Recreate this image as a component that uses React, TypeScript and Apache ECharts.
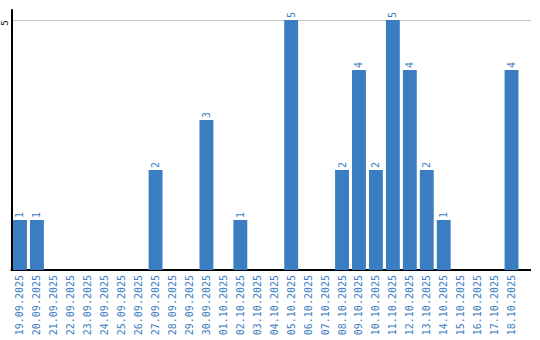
import React, { useEffect, useRef } from "react";
import * as echarts from "echarts";

const categories = [
  "19.09.2025", "20.09.2025", "21.09.2025", "22.09.2025", "23.09.2025",
  "24.09.2025", "25.09.2025", "26.09.2025", "27.09.2025", "28.09.2025",
  "29.09.2025", "30.09.2025", "01.10.2025", "02.10.2025", "03.10.2025",
  "04.10.2025", "05.10.2025", "06.10.2025", "07.10.2025", "08.10.2025",
  "09.10.2025", "10.10.2025", "11.10.2025", "12.10.2025", "13.10.2025",
  "14.10.2025", "15.10.2025", "16.10.2025", "17.10.2025", "18.10.2025",
];
const values = [
  1, 1, 0, 0, 0,
  0, 0, 0, 2, 0,
  0, 3, 0, 1, 0,
  0, 5, 0, 0, 2,
  4, 2, 5, 4, 2,
  1, 0, 0, 0, 4,
];
const yMax = 5.2;
const yTick = 5;

const BLUE = "#3b7dc2";
const FONT = "DejaVu Sans Mono";

export default function App() {
  const ref = useRef<HTMLDivElement>(null);
  useEffect(() => {
    if (!ref.current) return;
    const chart = echarts.init(ref.current, null, { renderer: "svg" });
    chart.setOption({
      animation: false,
      grid: { left: 10, right: 20, top: 10, bottom: 70, containLabel: false },
      xAxis: {
        type: "category",
        data: categories,
        axisLine: { lineStyle: { color: "#000", width: 2 } },
        axisTick: { show: false },
        axisLabel: {
          rotate: 90,
          interval: 0,
          margin: 5,
          color: BLUE,
          fontFamily: FONT,
          fontSize: 10,
        },
      },
      yAxis: {
        type: "value",
        min: 0,
        max: yMax,
        interval: yTick,
        axisLine: { show: true, lineStyle: { color: "#000", width: 2 } },
        axisTick: { show: false },
        axisLabel: {
          rotate: 90,
          margin: 7,
          align: "center",
          verticalAlign: "middle",
          padding: [0, 6, 0, 0],
          color: "#000",
          fontFamily: FONT,
          fontSize: 9,
          showMaxLabel: false,
          showMinLabel: false,
        },
        splitLine: {
          show: true,
          showMinLine: false,
          showMaxLine: false,
          lineStyle: { color: "#c8c8c8", width: 1 },
        },
      },
      series: [
        {
          type: "bar",
          data: values.map((v) => (v === 0 ? null : v)),
          barCategoryGap: "18%",
          itemStyle: { color: BLUE },
          label: {
            show: true,
            position: "top",
            rotate: 90,
            align: "left",
            verticalAlign: "middle",
            distance: 2,
            color: BLUE,
            fontFamily: FONT,
            fontSize: 10,
          },
        },
      ],
      graphic: [
        {
          type: "line",
          shape: { x1: 520, y1: 20.5, x2: 531, y2: 20.5 },
          style: { stroke: "#c8c8c8", lineWidth: 1 },
          silent: true,
        },
        {
          type: "line",
          shape: { x1: 519, y1: 270, x2: 531, y2: 270 },
          style: { stroke: "#000", lineWidth: 2 },
          silent: true,
        },
      ],
    });
    return () => chart.dispose();
  }, []);
  return <div ref={ref} style={{ width: 540, height: 340, position: "absolute", left: 0, top: 0 }} />;
}
